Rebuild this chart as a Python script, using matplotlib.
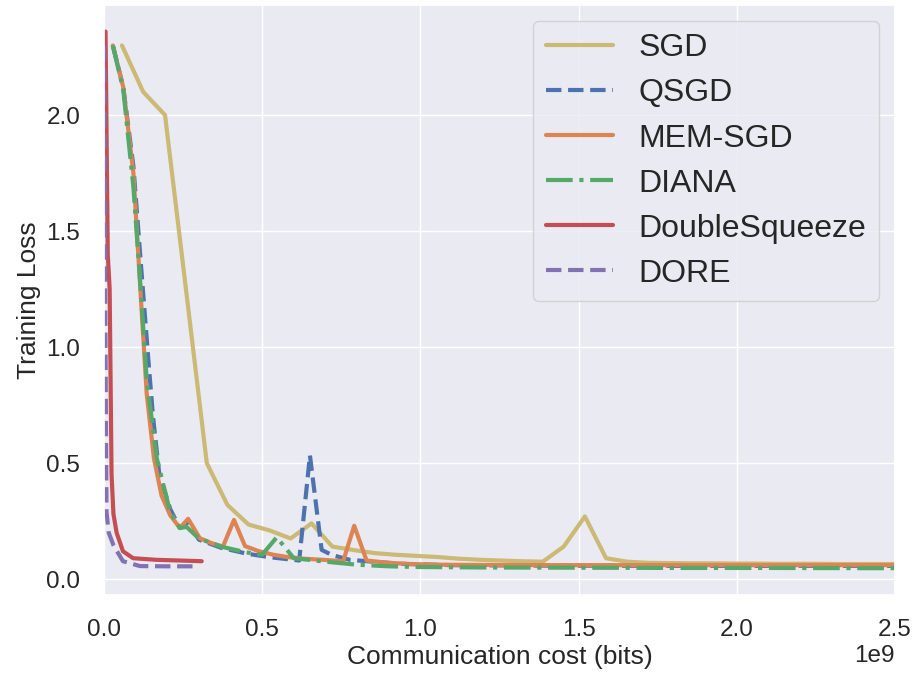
import matplotlib
matplotlib.use("Agg")
import matplotlib.pyplot as plt
import seaborn as sns
import numpy as np

sns.set_theme(style="darkgrid")
plt.rcParams['font.family'] = ['Liberation Sans', 'DejaVu Sans']

# communication cost in units of 1e9 bits, training loss

# SGD
x_sgd = [0.057, 0.124, 0.193, 0.26, 0.325, 0.39, 0.457, 0.523, 0.59, 0.656,
         0.722, 0.79, 0.855, 0.92, 0.988, 1.055, 1.12, 1.19, 1.254, 1.32,
         1.387, 1.453, 1.52, 1.587, 1.653, 1.72, 1.79, 1.85, 1.92, 1.99,
         2.05, 2.12, 2.19, 2.25, 2.32, 2.39, 2.45, 2.52]
y_sgd = [2.30, 2.10, 2.00, 1.24, 0.50, 0.32, 0.235, 0.21, 0.175, 0.24,
         0.14, 0.125, 0.112, 0.105, 0.10, 0.095, 0.088, 0.083, 0.08, 0.077,
         0.075, 0.14, 0.27, 0.09, 0.075, 0.07, 0.069, 0.068, 0.068, 0.067,
         0.067, 0.066, 0.066, 0.066, 0.065, 0.065, 0.065, 0.065]

# QSGD
x_qsgd = [0.028, 0.061, 0.093, 0.12, 0.14, 0.155, 0.175, 0.21, 0.24, 0.266,
          0.30, 0.37, 0.45, 0.52, 0.617, 0.651, 0.688, 0.72, 0.777, 0.85,
          0.95, 1.1, 1.4, 1.8, 2.2, 2.55]
y_qsgd = [2.30, 2.12, 1.78, 1.30, 0.95, 0.70, 0.45, 0.30, 0.22, 0.245,
          0.17, 0.135, 0.11, 0.095, 0.08, 0.533, 0.126, 0.104, 0.083, 0.075,
          0.065, 0.06, 0.058, 0.057, 0.057, 0.057]

# MEM-SGD
x_mem = [0.028, 0.061, 0.093, 0.115, 0.135, 0.158, 0.182, 0.209, 0.24, 0.266,
         0.303, 0.34, 0.376, 0.411, 0.446, 0.49, 0.535, 0.58, 0.63, 0.693,
         0.756, 0.791, 0.83, 0.9, 0.97, 1.05, 1.2, 1.4, 1.6, 1.8,
         2.0, 2.2, 2.4, 2.55]
y_mem = [2.30, 2.12, 1.75, 1.25, 0.80, 0.52, 0.36, 0.276, 0.22, 0.26,
         0.176, 0.155, 0.14, 0.255, 0.142, 0.12, 0.105, 0.095, 0.088, 0.083,
         0.077, 0.23, 0.08, 0.07, 0.065, 0.062, 0.061, 0.06, 0.06, 0.06,
         0.06, 0.06, 0.06, 0.06]

# DIANA
x_diana = [0.028, 0.061, 0.093, 0.114, 0.135, 0.167, 0.209, 0.24, 0.261, 0.30,
           0.37, 0.45, 0.50, 0.546, 0.60, 0.70, 0.80, 0.90, 1.0, 1.2,
           1.5, 1.8, 2.1, 2.4, 2.55]
y_diana = [2.30, 2.11, 1.69, 1.29, 0.86, 0.52, 0.29, 0.22, 0.225, 0.175,
           0.14, 0.115, 0.105, 0.18, 0.09, 0.075, 0.062, 0.055, 0.052, 0.05,
           0.049, 0.048, 0.048, 0.047, 0.047]

# DoubleSqueeze
x_ds = [0.005, 0.012, 0.018, 0.024, 0.03, 0.04, 0.06, 0.092, 0.166, 0.24, 0.309]
y_ds = [2.36, 1.40, 1.25, 0.45, 0.28, 0.20, 0.12, 0.09, 0.083, 0.08, 0.077]

# DORE
x_dore = [0.001, 0.004, 0.008, 0.015, 0.03, 0.06, 0.114, 0.2, 0.30]
y_dore = [2.30, 1.20, 0.29, 0.20, 0.146, 0.077, 0.056, 0.055, 0.055]

deep = sns.color_palette("deep")

fig, ax = plt.subplots(figsize=(9.16, 6.75), dpi=100)
fig.subplots_adjust(left=0.1135, right=0.977, bottom=0.1185, top=0.993)

lw = 3.0
ax.plot(np.array(x_sgd) * 1e9, y_sgd, color=deep[8], lw=lw, ls='-', label='SGD')
ax.plot(np.array(x_qsgd) * 1e9, y_qsgd, color=deep[0], lw=lw, ls='--', label='QSGD')
ax.plot(np.array(x_mem) * 1e9, y_mem, color=deep[1], lw=lw, ls='-', label='MEM-SGD')
ax.plot(np.array(x_diana) * 1e9, y_diana, color=deep[2], lw=lw, ls='-.', label='DIANA')
ax.plot(np.array(x_ds) * 1e9, y_ds, color=deep[3], lw=lw, ls='-', label='DoubleSqueeze')
ax.plot(np.array(x_dore) * 1e9, y_dore, color=deep[4], lw=lw, ls='--', label='DORE')

ax.set_xlim(0, 2.5e9)
ax.tick_params(labelsize=17.5, pad=11)
ax.xaxis.get_offset_text().set_fontsize(17.5)
ax.set_xlabel('Communication cost (bits)', fontsize=19, labelpad=3)
ax.set_ylabel('Training Loss', fontsize=19, labelpad=4)

ax.legend(loc='upper right', fontsize=23, handlelength=2.1,
          handletextpad=0.8, labelspacing=0.47)

fig.savefig('out.png', dpi=100)
